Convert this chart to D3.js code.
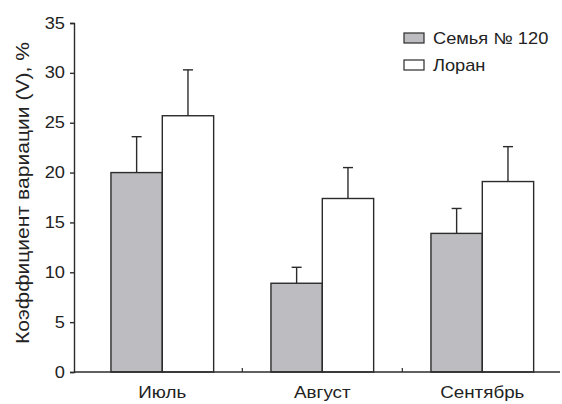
<!DOCTYPE html>
<html>
<head>
<meta charset="utf-8">
<script src="https://cdn.jsdelivr.net/npm/d3@7"></script>
<style>
  html, body { margin: 0; padding: 0; background: #fff; }
  svg { display: block; }
  text { font-family: "Liberation Sans", Arial, sans-serif; fill: #222; }
</style>
</head>
<body>
<svg id="chart" width="562" height="404"></svg>
<script>
// Coefficient of variation by month for two bee lines
const months = ["Июль", "Август", "Сентябрь"];
const seriesNames = ["Семья № 120", "Лоран"];
const family120 = [20.0, 8.9, 13.9];
const family120Err = [3.6, 1.6, 2.5];
const loran = [25.7, 17.4, 19.1];
const loranErr = [4.6, 3.1, 3.5];
const yTicks = [0, 5, 10, 15, 20, 25, 30, 35];

const fills = ["#bdbdc1", "#ffffff"];
const ink = "#2b2b2b";
const sx = 1.14; // horizontal widening of the typeface

const svg = d3.select("#chart");
const yAxisX = 74;
const plotRight = 560;

const y = d3.scaleLinear().domain([0, 35]).range([372, 23]);
const x0 = d3.scaleBand().domain(months).range([82.3, 562.3]).padding(0);
const x1 = d3.scaleBand().domain(seriesNames).range([0, x0.bandwidth()])
  .paddingInner(0).paddingOuter(0.558);

const rows = months.map((m, i) => ({
  month: m,
  bars: [
    { name: seriesNames[0], value: family120[i], err: family120Err[i], fill: fills[0] },
    { name: seriesNames[1], value: loran[i], err: loranErr[i], fill: fills[1] }
  ]
}));

// Y axis
const yAxis = d3.axisLeft(y).tickValues(yTicks).tickSize(4).tickPadding(5);
const gy = svg.append("g").attr("transform", `translate(${yAxisX},0)`).call(yAxis);
gy.select(".domain").attr("stroke", ink).attr("stroke-width", 1.4);
gy.selectAll(".tick line").attr("stroke", ink).attr("stroke-width", 1.4);
gy.selectAll(".tick text")
  .style("font-size", "16px").attr("fill", "#222")
  .style("font-family", "'Liberation Sans', Arial, sans-serif")
  .attr("x", -9 / sx)
  .attr("transform", `scale(${sx},1)`);

// Bars
const groups = svg.append("g").selectAll("g").data(rows).join("g")
  .attr("transform", d => `translate(${x0(d.month)},0)`);

groups.selectAll("rect").data(d => d.bars).join("rect")
  .attr("x", d => x1(d.name))
  .attr("y", d => y(d.value))
  .attr("width", x1.bandwidth())
  .attr("height", d => y(0) - y(d.value))
  .attr("fill", d => d.fill)
  .attr("stroke", ink)
  .attr("stroke-width", 1.4);

// Error bars (upper only)
const capHalf = 5;
groups.selectAll("line.err").data(d => d.bars).join("line")
  .attr("class", "err")
  .attr("x1", d => x1(d.name) + x1.bandwidth() / 2)
  .attr("x2", d => x1(d.name) + x1.bandwidth() / 2)
  .attr("y1", d => y(d.value))
  .attr("y2", d => y(d.value + d.err))
  .attr("stroke", ink).attr("stroke-width", 1.4);
groups.selectAll("line.cap").data(d => d.bars).join("line")
  .attr("class", "cap")
  .attr("x1", d => x1(d.name) + x1.bandwidth() / 2 - capHalf)
  .attr("x2", d => x1(d.name) + x1.bandwidth() / 2 + capHalf)
  .attr("y1", d => y(d.value + d.err))
  .attr("y2", d => y(d.value + d.err))
  .attr("stroke", ink).attr("stroke-width", 1.4);

// X axis: baseline, category separators, labels
const gx = svg.append("g");
gx.append("line")
  .attr("x1", yAxisX).attr("x2", plotRight)
  .attr("y1", y(0)).attr("y2", y(0))
  .attr("stroke", ink).attr("stroke-width", 1.4);
gx.selectAll("line.sep").data(months.slice(1)).join("line")
  .attr("class", "sep")
  .attr("x1", d => x0(d)).attr("x2", d => x0(d))
  .attr("y1", y(0)).attr("y2", y(0) - 4)
  .attr("stroke", ink).attr("stroke-width", 1.2);
gx.selectAll("text").data(months).join("text")
  .attr("transform", d => `translate(${x0(d) + x0.bandwidth() / 2},398) scale(${sx},1)`)
  .attr("text-anchor", "middle")
  .style("font-size", "16.5px")
  .text(d => d);

// Y axis title
svg.append("text")
  .attr("transform", `translate(28.5,193) rotate(-90) scale(${sx},1)`)
  .attr("text-anchor", "middle")
  .style("font-size", "18.5px")
  .text("Коэффициент вариации (V), %");

// Legend
const legend = svg.append("g").attr("transform", "translate(404,33)");
const items = legend.selectAll("g").data(seriesNames).join("g")
  .attr("transform", (d, i) => `translate(0,${i * 27})`);
items.append("rect")
  .attr("width", 20).attr("height", 10)
  .attr("fill", (d, i) => fills[i])
  .attr("stroke", ink).attr("stroke-width", 1.2);
items.append("text")
  .attr("transform", `translate(29,10.5) scale(${sx},1)`)
  .style("font-size", "16px")
  .text(d => d);
</script>
</body>
</html>
